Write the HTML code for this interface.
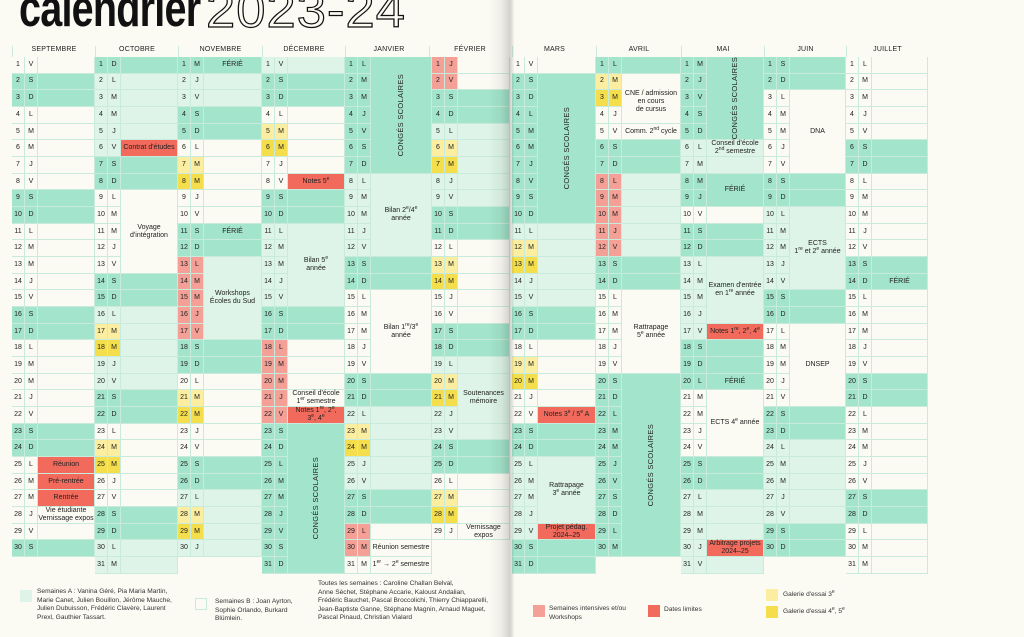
<!DOCTYPE html>
<html><head><meta charset="utf-8">
<style>
html,body{margin:0;padding:0;}
body{width:1024px;height:637px;overflow:hidden;background:#fbfaf3;position:relative;font-family:"Liberation Sans",sans-serif;color:#222;}
.c{position:absolute;box-sizing:border-box;font-size:7px;display:flex;align-items:center;justify-content:center;text-align:center;line-height:8px;border-bottom:1px solid #c9ebdc;border-right:1px solid #c9ebdc;}
.h{position:absolute;font-size:7px;text-align:center;top:46px;height:11px;border-left:1px solid #cfe9dc;box-sizing:border-box;letter-spacing:0.2px;}
.v{writing-mode:vertical-rl;transform:rotate(180deg);font-size:7.5px;letter-spacing:0.3px;}
sup{font-size:5px;line-height:0;vertical-align:3px;}
.lg{position:absolute;font-size:6.6px;line-height:8.6px;color:#333;}
.sq{position:absolute;width:12px;height:12px;box-sizing:border-box;}
</style></head><body>
<div style="position:absolute;left:19px;top:-21px;font-size:52px;font-weight:bold;letter-spacing:-1px;transform:scaleX(0.76);transform-origin:left top;color:#111;">calendrier</div>
<div style="position:absolute;left:206px;top:-19px;font-size:50px;color:transparent;-webkit-text-stroke:1.2px #111;letter-spacing:1px;transform:scaleX(1.05);transform-origin:left top;">2023-24</div>
<div id="g"></div>
<div style="position:absolute;left:488px;top:0;width:26px;height:637px;background:linear-gradient(90deg,rgba(0,0,0,0) 0%,rgba(0,0,0,0.05) 50%,rgba(0,0,0,0.16) 85%,rgba(0,0,0,0.03) 100%);"></div>

<div class="sq" style="left:20px;top:590px;background:#def4e8;"></div>
<div class="lg" style="left:37px;top:588px;">Semaines A : Vanina Géré, Pia Maria Martin,<br>Marie Canet, Julien Bouillon, Jérôme Mauche,<br>Julien Dubuisson, Frédéric Clavère, Laurent<br>Prexl, Gauthier Tassart.</div>
<div class="sq" style="left:195px;top:598px;border:1px solid #c9ebdc;background:#fbfaf3;"></div>
<div class="lg" style="left:215px;top:598px;">Semaines B : Joan Ayrton,<br>Sophie Orlando, Burkard<br>Blümlein.</div>
<div class="lg" style="left:318px;top:580px;">Toutes les semaines : Caroline Challan Belval,<br>Anne Séchet, Stéphane Accarie, Kaloust Andalian,<br>Frédéric Bauchet, Pascal Broccolichi, Thierry Chiapparelli,<br>Jean-Baptiste Ganne, Stéphane Magnin, Arnaud Maguet,<br>Pascal Pinaud, Christian Vialard</div>
<div class="sq" style="left:533px;top:605px;background:#f4a097;"></div>
<div class="lg" style="left:549px;top:605px;">Semaines intensives et/ou<br>Workshops</div>
<div class="sq" style="left:648px;top:605px;background:#f26a5c;"></div>
<div class="lg" style="left:664px;top:606px;">Dates limites</div>
<div class="sq" style="left:766px;top:589px;background:#fbeea0;"></div>
<div class="lg" style="left:783px;top:591px;">Galerie d'essai 3<sup>e</sup></div>
<div class="sq" style="left:766px;top:606px;background:#f5de4c;"></div>
<div class="lg" style="left:783px;top:608px;">Galerie d'essai 4<sup>e</sup>, 5<sup>e</sup></div>

<script>
var C={w:'#fbfaf3',a:'#def4e8',g:'#a3e4cc',y:'#fbeea0',Y:'#f5de4c',p:'#f4a097',r:'#f26a5c'};
var M=[
{n:'SEPTEMBRE',x:12,y:2023,m:8,r:'wggwwwwwggwwwwwggwwwwwggwwwwwg',o:{},
 e:[[25,25,'Réunion','r'],[26,26,'Pré-rentrée','r'],[27,27,'Rentrée','r'],[28,28,'Vie étudiante<br>Vernissage expos']]},
{n:'OCTOBRE',x:95,y:2023,m:9,r:'gaaaaaggwwwwwggaaaaaggwwwwwggaa',o:{17:'y',18:'Y',24:'y',25:'Y'},
 e:[[6,6,"Contrat d'études",'r'],[9,13,"Voyage<br>d'intégration"]]},
{n:'NOVEMBRE',x:178,y:2023,m:10,r:'gaaggwwwwwggaaaaaggwwwwwggaaaa',o:{7:'y',8:'Y',13:'p',14:'p',15:'p',16:'p',17:'p',21:'y',22:'Y',28:'y',29:'Y'},
 e:[[1,1,'FÉRIÉ'],[11,11,'FÉRIÉ'],[13,17,'Workshops<br>Écoles du Sud']]},
{n:'DÉCEMBRE',x:262,y:2023,m:11,r:'aggwwwwwggaaaaaggwwwwwggggggggg',o:{5:'y',6:'Y',18:'p',19:'p',20:'p',21:'p',22:'p'},
 e:[[8,8,'Notes 5<sup>e</sup>','r'],[11,15,'Bilan 5<sup>e</sup><br>année'],[21,21,"Conseil d'école<br>1<sup>er</sup> semestre"],[22,22,'Notes 1<sup>re</sup>, 2<sup>e</sup>,<br>3<sup>e</sup>, 4<sup>e</sup>','r'],[23,31,'CONGÉS SCOLAIRES',null,1]]},
{n:'JANVIER',x:345,y:2024,m:0,r:'gggggggaaaaaggwwwwwggaaaaaggwww',o:{23:'y',24:'Y',29:'p',30:'p'},
 e:[[1,7,'CONGÉS SCOLAIRES',null,1],[8,12,'Bilan 2<sup>e</sup>/4<sup>e</sup><br>année'],[15,19,'Bilan 1<sup>re</sup>/3<sup>e</sup><br>année'],[30,30,'Réunion semestre'],[31,31,'1<sup>er</sup> → 2<sup>e</sup> semestre']]},
{n:'FÉVRIER',x:432,y:2024,m:1,r:'wwggaaaaaggwwwwwggaaaaaggwwww',o:{1:'p',2:'p',6:'y',7:'Y',13:'y',14:'Y',20:'y',21:'Y',27:'y',28:'Y'},
 e:[[20,22,'Soutenances<br>mémoire'],[29,29,'Vernissage<br>expos']]},
{n:'MARS',x:512,y:2024,m:2,r:'wgggggggggaaaaaggwwwwwggaaaaagg',o:{12:'y',13:'Y',19:'y',20:'Y'},
 e:[[2,10,'CONGÉS SCOLAIRES',null,1],[22,22,'Notes 3<sup>e</sup> / 5<sup>e</sup> A','r'],[25,28,'Rattrapage<br>3<sup>e</sup> année'],[29,29,'Projet pédag.<br>2024–25','r']]},
{n:'AVRIL',x:596,y:2024,m:3,r:'gwwwwggaaaaaggwwwwwggggggggggg',o:{2:'y',3:'Y',8:'p',9:'p',10:'p',11:'p',12:'p'},
 e:[[2,4,'<br>CNE / admission<br>en cours<br>de cursus'],[5,5,'Comm. 2<sup>nd</sup> cycle'],[15,19,'Rattrapage<br>5<sup>e</sup> année'],[20,30,'CONGÉS SCOLAIRES',null,1]]},
{n:'MAI',x:681,y:2024,m:4,r:'gggggaaggwggaaaaaggg'+'wwwwggaaaaa',o:{},
 e:[[1,5,'CONGÉS SCOLAIRES',null,1],[6,6,"Conseil d'école<br>2<sup>nd</sup> semestre"],[8,9,'FÉRIÉ'],[13,16,"Examen d'entrée<br>en 1<sup>re</sup> année"],[17,17,'Notes 1<sup>re</sup>, 2<sup>e</sup>, 4<sup>e</sup>','r'],[20,20,'FÉRIÉ'],[21,24,'ECTS 4<sup>e</sup> année'],[30,30,'Arbitrage projets<br>2024–25','r']]},
{n:'JUIN',x:764,y:2024,m:5,r:'ggwwwwwggaaaaaggwwwwwggaaaaagg',o:{},
 e:[[3,7,'DNA'],[10,14,'ECTS<br>1<sup>re</sup> et 2<sup>e</sup> année'],[17,21,'DNSEP']]},
{n:'JUILLET',x:846,y:2024,m:6,r:'wwwwwggwwwwwggwwwwwggwwwwwggwww',o:{},
 e:[[14,14,'FÉRIÉ']]}
];
var L=['D','L','M','M','J','V','S'];
var T=57,H=16.67,h='';
function box(x,y,w,hh,bg,txt){return '<div class="c" style="left:'+x+'px;top:'+y.toFixed(2)+'px;width:'+w+'px;height:'+hh.toFixed(2)+'px;background:'+bg+'">'+txt+'</div>';}
M.forEach(function(mo,i){
  var xe=(i<M.length-1)?M[i+1].x:928; if(i==5)xe=510;
  var hx=mo.x-(i==5?3:0);
  h+='<div class="h" style="left:'+hx+'px;width:'+(xe-hx)+'px">'+mo.n+'</div>';
  var nd=mo.r.length;
  for(var d=1;d<=nd;d++){
    var rc=mo.r[d-1],dc=mo.o[d]||rc;
    var wd=new Date(mo.y,mo.m,d).getDay();
    var y=T+(d-1)*H;
    h+=box(mo.x,y,13,H,C[dc],d);
    h+=box(mo.x+13,y,13,H,C[dc],L[wd]);
    h+=box(mo.x+26,y,xe-mo.x-26,H,C[rc],'');
  }
  mo.e.forEach(function(e){
    var bg=e[3]?C[e[3]]:C[mo.r[e[0]-1]];
    var y=T+(e[0]-1)*H, hh=(e[1]-e[0]+1)*H;
    var t=e[4]?'<span class="v">'+e[2]+'</span>':'<span>'+e[2]+'</span>';
    h+=box(mo.x+26,y,xe-mo.x-26,hh,bg,t);
  });
});
document.getElementById('g').innerHTML=h;
</script>
</body></html>
